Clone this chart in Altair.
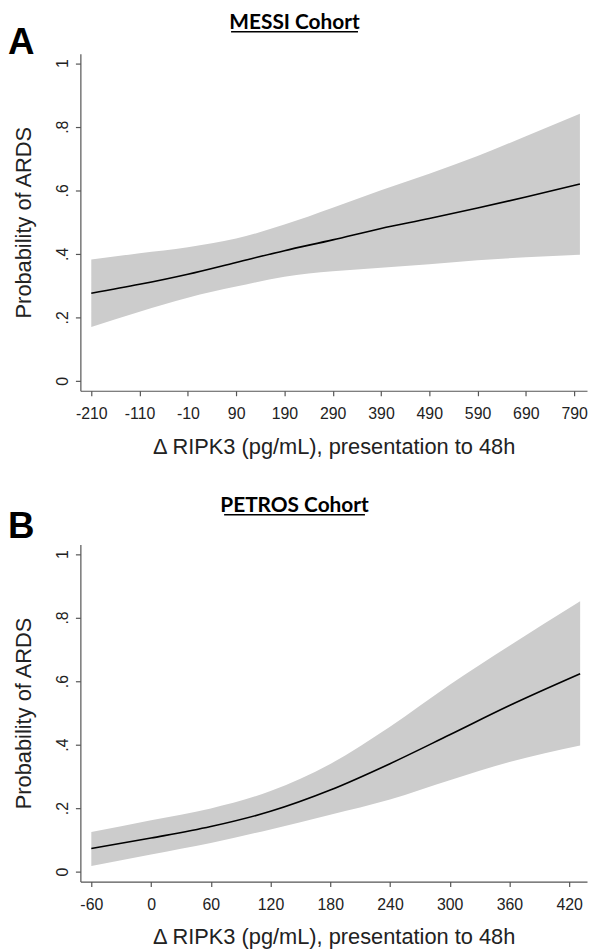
import altair as alt
import pandas as pd

# Panel A (MESSI cohort)
a_x = [-210, -110, -10, 90, 190, 290, 390, 490, 590, 690, 802]
a_fit = [0.276, 0.304, 0.336, 0.373, 0.410, 0.444, 0.480, 0.511, 0.544, 0.579, 0.620]
a_lo = [0.170, 0.218, 0.262, 0.297, 0.328, 0.345, 0.356, 0.367, 0.380, 0.389, 0.397]
a_hi = [0.382, 0.402, 0.421, 0.448, 0.492, 0.545, 0.600, 0.652, 0.708, 0.770, 0.841]
a_ticks = [-210, -110, -10, 90, 190, 290, 390, 490, 590, 690, 790]

# Panel B (PETROS cohort)
b_x = [-60, 0, 60, 120, 180, 240, 300, 360, 431]
b_fit = [0.073, 0.106, 0.142, 0.190, 0.257, 0.340, 0.431, 0.523, 0.623]
b_lo = [0.018, 0.054, 0.090, 0.133, 0.179, 0.227, 0.288, 0.345, 0.397]
b_hi = [0.125, 0.162, 0.199, 0.254, 0.339, 0.456, 0.588, 0.711, 0.851]
b_ticks = [-60, 0, 60, 120, 180, 240, 300, 360, 420]

y_ticks = [0, 0.2, 0.4, 0.6, 0.8, 1]
x_title = "\u0394 RIPK3 (pg/mL), presentation to 48h"
y_title = "Probability of ARDS"

W, H = 511, 340
BAND = "#cccccc"
FONT = "Liberation Sans"


def panel(xs, fit, lo, hi, ticks, xdom, title, letter, letter_dy, title_dy, ul_half):
    df = pd.DataFrame({"x": xs, "fit": fit, "lo": lo, "hi": hi})
    xs_ = alt.Scale(domain=xdom, nice=False, zero=False)
    ys_ = alt.Scale(domain=[-0.031, 1.03], nice=False, zero=False)
    xax = alt.Axis(values=ticks, title=x_title, grid=False, labelFlush=False,
                   labelExpr="'' + datum.value")
    yax = alt.Axis(values=y_ticks, title=y_title, grid=False, labelAngle=270,
                   labelExpr="replace(format(datum.value, '.1~f'), '0.', '.')")
    band = alt.Chart(df).mark_area(color=BAND, interpolate="monotone", opacity=1).encode(
        x=alt.X("x:Q", scale=xs_, axis=xax),
        y=alt.Y("lo:Q", scale=ys_, axis=yax),
        y2="hi:Q",
    )
    line = alt.Chart(df).mark_line(color="black", strokeWidth=1.6, interpolate="monotone").encode(
        x=alt.X("x:Q", scale=xs_),
        y=alt.Y("fit:Q", scale=ys_),
    )
    lab = alt.Chart(pd.DataFrame({"t": [letter]})).mark_text(
        font=FONT, fontSize=37, fontWeight="bold", align="left", baseline="alphabetic", color="black"
    ).encode(text="t:N", x=alt.value(-73), y=alt.value(letter_dy))
    cx = 216  # title centred on the figure, left of the plot centre
    ttl = alt.Chart(pd.DataFrame({"t": [title]})).mark_text(
        font="Lato", fontSize=21, fontWeight="bold", align="center", baseline="alphabetic", color="black"
    ).encode(text="t:N", x=alt.value(cx), y=alt.value(title_dy))
    ul = alt.Chart(pd.DataFrame({"u": [0]})).mark_rule(color="black", strokeWidth=1.5).encode(
        x=alt.value(cx - ul_half), x2=alt.value(cx + ul_half), y=alt.value(title_dy + 3)
    )
    return alt.layer(band, line, lab, ttl, ul).properties(width=W, height=H)


pa = panel(a_x, a_fit, a_lo, a_hi, a_ticks, [-232.6, 816.7], "MESSI Cohort", "A", 0, -25, 64)
pb = panel(b_x, b_fit, b_lo, b_hi, b_ticks, [-71, 437.9], "PETROS Cohort", "B", -6, -33, 71)

chart = alt.vconcat(pa, pb, spacing=38).properties(
    padding={"left": 0, "top": 0, "right": 0, "bottom": 0}
).configure_view(stroke=None).configure_axis(
    labelFont=FONT, labelFontSize=16, labelColor="#222",
    titleFont=FONT, titleFontSize=22, titleFontWeight="normal", titleColor="#222",
    domainColor="#555", tickColor="#555", domainWidth=1.2, tickWidth=1.2, tickSize=5,
).configure_axisX(labelPadding=10, titlePadding=15).configure_axisY(labelPadding=5, titlePadding=19)

chart.save("out.html", embed_options={"renderer": "svg", "actions": False})
